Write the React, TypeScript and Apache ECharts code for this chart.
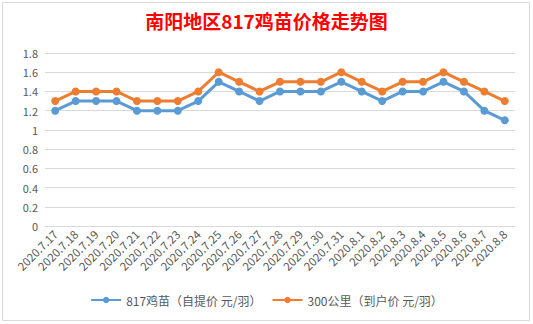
import React, { useEffect, useRef } from "react";
import * as echarts from "echarts";

const categories = [
  "2020.7.17", "2020.7.18", "2020.7.19", "2020.7.20", "2020.7.21", "2020.7.22",
  "2020.7.23", "2020.7.24", "2020.7.25", "2020.7.26", "2020.7.27", "2020.7.28",
  "2020.7.29", "2020.7.30", "2020.7.31", "2020.8.1", "2020.8.2", "2020.8.3",
  "2020.8.4", "2020.8.5", "2020.8.6", "2020.8.7", "2020.8.8",
];
const pickupPrice = [
  1.2, 1.3, 1.3, 1.3, 1.2, 1.2, 1.2, 1.3, 1.5, 1.4, 1.3, 1.4,
  1.4, 1.4, 1.5, 1.4, 1.3, 1.4, 1.4, 1.5, 1.4, 1.2, 1.1,
];
const deliveredPrice = [
  1.3, 1.4, 1.4, 1.4, 1.3, 1.3, 1.3, 1.4, 1.6, 1.5, 1.4, 1.5,
  1.5, 1.5, 1.6, 1.5, 1.4, 1.5, 1.5, 1.6, 1.5, 1.4, 1.3,
];
const seriesNames = ["817鸡苗（自提价 元/羽）", "300公里（到户价 元/羽）"];
const titleText = "南阳地区817鸡苗价格走势图";

export default function App() {
  const ref = useRef<HTMLDivElement>(null);
  useEffect(() => {
    if (!ref.current) return;
    const chart = echarts.init(ref.current, undefined, { renderer: "svg" });
    const font = "'Noto Sans CJK SC', 'Noto Sans', sans-serif";
    chart.setOption({
      animation: false,
      backgroundColor: "#ffffff",
      textStyle: { fontFamily: font },
      title: {
        text: titleText,
        left: "center",
        top: 6,
        textStyle: { color: "#ff0000", fontSize: 19, fontWeight: "bold", fontFamily: font },
      },
      graphic: [
        {
          type: "rect",
          shape: { x: 2.5, y: 2.5, width: 527, height: 318 },
          style: { fill: "none", stroke: "#d9d9d9", lineWidth: 1 },
          silent: true,
        },
      ],
      grid: { left: 45, right: 18, top: 53, bottom: 98 },
      legend: {
        bottom: 13,
        left: "center",
        itemWidth: 30,
        itemHeight: 8,
        itemGap: 10,
        textStyle: { color: "#595959", fontSize: 12, fontFamily: font },
        data: seriesNames,
      },
      xAxis: {
        type: "category",
        data: categories,
        boundaryGap: true,
        axisLine: { lineStyle: { color: "#d9d9d9" } },
        axisTick: { show: false },
        axisLabel: { rotate: 45, interval: 0, color: "#595959", fontSize: 11.5, margin: 6 },
      },
      yAxis: {
        type: "value",
        min: 0,
        max: 1.8,
        interval: 0.2,
        axisLine: { show: false },
        axisTick: { show: false },
        axisLabel: {
          color: "#595959",
          fontSize: 11,
          margin: 7,
          formatter: (v: number) => String(Math.round(v * 10) / 10),
        },
        splitLine: { lineStyle: { color: "#d9d9d9" } },
      },
      series: [
        {
          name: seriesNames[0],
          type: "line",
          data: pickupPrice,
          symbol: "circle",
          symbolSize: 8,
          color: "#5b9bd5",
          lineStyle: { width: 3, color: "#5b9bd5" },
          itemStyle: { color: "#5b9bd5" },
        },
        {
          name: seriesNames[1],
          type: "line",
          data: deliveredPrice,
          symbol: "circle",
          symbolSize: 8,
          color: "#ed7d31",
          lineStyle: { width: 3, color: "#ed7d31" },
          itemStyle: { color: "#ed7d31" },
        },
      ],
    });
    return () => chart.dispose();
  }, []);
  return (
    <div
      ref={ref}
      style={{ position: "fixed", left: 0, top: 0, width: 533, height: 324 }}
    />
  );
}
